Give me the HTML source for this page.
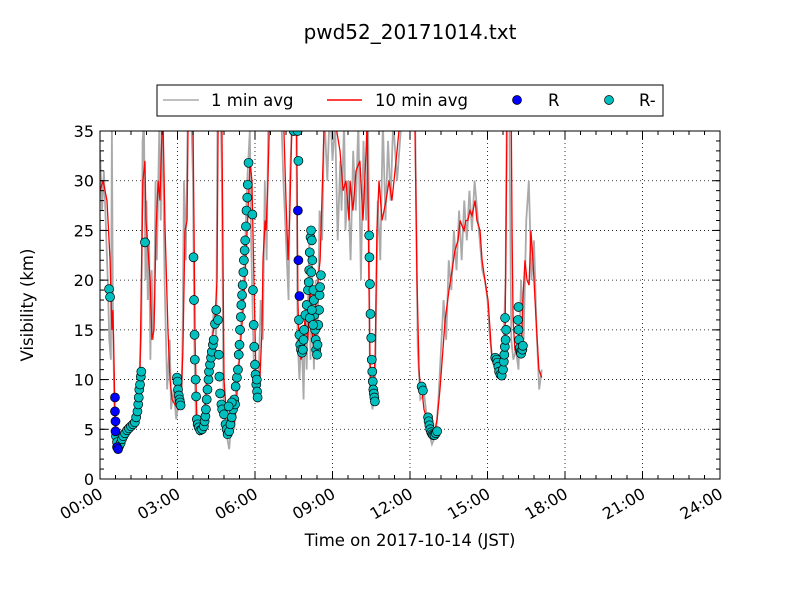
<!DOCTYPE html>
<html><head><meta charset="utf-8"><style>
body{margin:0;background:#fff;}
svg{display:block;font-family:"DejaVu Sans","Liberation Sans",sans-serif;}
</style></head><body>
<svg id="chart" width="800" height="600">
<defs><clipPath id="clip"><rect x="100" y="131" width="620" height="348"/></clipPath></defs>
<rect x="0" y="0" width="800" height="600" fill="#fff"/>
<text x="410" y="39" font-size="20" text-anchor="middle">pwd52_20171014.txt</text>
<g id="grid"></g>
<g id="plot" clip-path="url(#clip)"></g>
<rect x="100" y="131" width="620" height="348" fill="none" stroke="#000" stroke-width="1"/>
<g id="ticks"></g>
<text x="410" y="546" font-size="16.5" text-anchor="middle">Time on 2017-10-14 (JST)</text>
<text x="0" y="0" font-size="16.5" text-anchor="middle" transform="translate(33,305) rotate(-90)">Visibility (km)</text>
<g>
<rect x="157" y="85" width="506" height="31" fill="#fff" stroke="#000"/>
<g><line x1="163" y1="100" x2="199" y2="100" stroke="#aaa" stroke-width="1.5"/><text x="211" y="106" font-size="16.5">1 min avg</text></g>
<g><line x1="327" y1="100" x2="362" y2="100" stroke="red" stroke-width="1.5"/><text x="375" y="106" font-size="16.5">10 min avg</text></g>
<g><circle cx="517" cy="100" r="4.5" fill="#0000ff" stroke="#000" stroke-width="0.7"/><text x="548" y="106" font-size="16.5">R</text></g>
<g><circle cx="609" cy="100" r="4.5" fill="#00bfbf" stroke="#000" stroke-width="0.7"/><text x="639" y="106" font-size="16.5">R-</text></g>
</g>
</svg>
<script>
const xTicks=[0,3,6,9,12,15,18,21,24];
const xTickLabels=["00:00","03:00","06:00","09:00","12:00","15:00","18:00","21:00","24:00"];
const yTicks=[0,5,10,15,20,25,30,35];
const avg1Times=[0,0.08,0.15,0.22,0.3,0.36,0.42,0.46,0.5,0.55,0.6,0.7,0.8,1.0,1.2,1.4,1.5,1.6,1.65,1.7,1.76,1.8,1.85,1.9,1.95,2.0,2.05,2.1,2.15,2.2,2.3,2.35,2.42,2.5,2.6,2.7,2.75,2.85,2.95,3.05,3.15,3.2,3.25,3.32,3.4,3.5,3.6,3.66,3.72,3.85,4.0,4.1,4.2,4.3,4.4,4.5,4.55,4.65,4.72,4.78,4.9,5.0,5.1,5.2,5.3,5.4,5.5,5.6,5.7,5.8,5.85,5.95,6.05,6.15,6.22,6.3,6.38,6.45,6.52,7.0,7.1,7.2,7.3,7.35,7.45,7.6,7.65,7.72,7.8,7.88,7.95,8.0,8.1,8.15,8.2,8.28,8.35,8.42,8.5,8.6,8.68,8.8,8.9,9.0,9.1,9.2,9.3,9.35,9.45,9.5,9.6,9.7,9.8,9.9,10.0,10.1,10.2,10.3,10.38,10.45,10.55,10.65,10.75,10.85,10.95,11.05,11.15,11.25,11.35,11.5,11.7,12.0,12.2,12.3,12.4,12.55,12.7,12.85,13.0,13.1,13.2,13.3,13.4,13.5,13.6,13.7,13.8,13.9,14.0,14.1,14.2,14.3,14.4,14.5,14.6,14.7,14.8,14.9,15.0,15.1,15.2,15.35,15.5,15.6,15.7,15.75,15.85,15.92,16.0,16.1,16.2,16.3,16.4,16.5,16.6,16.7,16.8,16.9,17.0,17.1];
const avg1Values=[33,27,31,26,20,14,12,35,17,8,4,3,3.5,4.2,5,6,9,15,34,36,20,28,18,24,12,21,14,17,30,22,36,26,37,20,9,14,7,9,6,8,7,15,30,22,37,40,30,12,5,4.5,6,9,13,12,17,14,37,40,30,8,4.5,3,6,5,11,12,18,22,30,35,24,12,8,11,18,14,30,22,37,38,30,24,18,30,37,36,14,10,15,8,18,11,24,12,22,11,20,14,27,24,37,30,38,32,36,24,32,27,36,25,30,22,33,27,36,20,34,26,36,9,7,10,28,22,36,26,34,28,36,30,37,38,36,13,8,8.5,5,3.5,4.5,8,13,18,14,22,19,25,21,27,22,28,24,29,25,30,27,24,21,20,18,14,12,11,10,12,20,38,36,14,12,13,11,20,14,26,30,20,24,15,9,11];
const avg10Times=[0,0.12,0.27,0.39,0.46,0.5,0.54,0.58,0.66,0.74,0.85,1.08,1.35,1.47,1.55,1.66,1.74,1.78,1.86,1.94,2.01,2.09,2.17,2.25,2.32,2.4,2.44,2.52,2.63,2.71,2.79,2.9,3.02,3.14,3.21,3.29,3.37,3.41,3.48,3.6,3.68,3.75,3.83,3.95,4.06,4.18,4.34,4.45,4.53,4.57,4.65,4.72,4.8,4.88,4.99,5.11,5.23,5.34,5.42,5.54,5.61,5.73,5.81,5.88,5.96,6.04,6.12,6.19,6.27,6.31,6.39,6.43,6.5,6.58,7.08,7.12,7.2,7.28,7.35,7.43,7.59,7.63,7.66,7.7,7.78,7.86,7.93,8.05,8.13,8.2,8.28,8.36,8.44,8.52,8.59,8.67,8.75,9.1,9.29,9.41,9.52,9.64,9.68,9.79,9.91,10.06,10.18,10.3,10.34,10.41,10.45,10.53,10.65,10.72,10.8,10.92,11.07,11.19,11.3,11.46,11.61,11.8,12.0,12.19,12.27,12.35,12.39,12.46,12.54,12.66,12.77,12.85,12.93,13.05,13.16,13.36,13.51,13.63,13.74,13.86,13.94,14.01,14.09,14.16,14.24,14.32,14.4,14.52,14.59,14.71,14.79,14.9,15.02,15.1,15.17,15.25,15.37,15.48,15.6,15.68,15.75,15.83,15.91,15.95,15.99,16.06,16.14,16.22,16.3,16.37,16.45,16.53,16.61,16.68,16.76,16.88,16.99,17.1];
const avg10Values=[29,30,28,22,15,17,12,6,4,3,3.5,4.5,5.5,8,11,30,32,26,23,20,14,15,25,30,28,35,36,25,15,10,8,7.5,7,8,13,25,26,36,40,36,14,6,5,5.5,7,11,14,16,20,35,38,35,10,7,5,5,6,10,13,17,20,27,32,30,20,10,9,10,15,22,26,25,30,38,38,35,28,22,27,36,40,30,18,14,12,13,16,14,20,15,13,18,20,22,28,35,38,36,33,29,30,26,30,27,31,32,26,33,36,20,12,8,12,25,30,26,28,30,28,32,36,38,40,36,20,11,9.5,9,7,6,5,4.5,4.5,6,9,16,19,21,23,24,26,25.5,25,26,26,27,26.5,28,26,25,22,20,18,15,12,11.5,11.5,11.5,11,14,35,40,40,25,16,13,12.5,14,12.5,18,22,20,19.5,25,22,16,11,10.2];
const rTimes=[0.58,0.58,0.6,0.6,0.66,0.7,7.66,7.68,7.72];
const rValues=[8.2,6.8,5.8,4.8,3.2,3.0,27,22,18.4];
const rmTimes=[0.35,0.39,0.62,0.66,0.74,0.8,0.85,0.9,0.97,1.05,1.12,1.2,1.28,1.35,1.4,1.45,1.48,1.5,1.52,1.55,1.58,1.6,1.74,2.98,3.0,3.02,3.05,3.08,3.1,3.12,3.62,3.64,3.66,3.67,3.7,3.72,3.75,3.78,3.82,3.88,3.95,4.02,4.05,4.08,4.1,4.13,4.16,4.2,4.22,4.26,4.3,4.33,4.37,4.4,4.45,4.5,4.57,4.6,4.62,4.65,4.7,4.73,4.8,4.86,4.9,4.94,5.0,5.05,5.1,5.15,5.2,5.25,5.3,5.34,5.37,5.4,5.42,5.45,5.47,5.5,5.52,5.55,5.57,5.6,5.62,5.65,5.67,5.7,5.72,5.75,5.9,5.92,5.95,5.97,6.0,6.02,6.05,6.08,6.1,6.07,5.23,5.1,4.98,7.5,7.65,7.68,7.7,7.72,7.75,7.78,7.82,7.85,7.88,7.9,7.95,8.0,8.05,8.08,8.1,8.12,8.15,8.17,8.2,8.22,8.18,8.26,8.28,8.3,8.33,8.35,8.37,8.4,8.42,8.45,8.48,8.5,8.52,8.55,8.12,8.2,8.25,10.42,10.43,10.45,10.47,10.5,10.52,10.54,10.56,10.58,10.6,10.62,10.64,12.45,12.5,12.7,12.72,12.75,12.78,12.82,12.86,12.9,12.95,13.0,13.05,15.3,15.35,15.38,15.42,15.45,15.5,15.55,15.6,15.63,15.65,15.67,15.7,15.72,15.68,16.2,16.18,16.2,16.22,16.25,16.28,16.3,16.35,16.37];
const rmValues=[19.1,18.3,4.3,3.7,3.3,3.6,4,4.3,4.6,4.9,5.1,5.3,5.5,5.7,6.2,6.8,7.5,8.2,9,9.5,10.3,10.8,23.8,10.2,9.8,9,8.4,8,7.7,7.4,22.3,18,14.5,12,10,8.3,6,5.5,5.2,4.9,5,5.3,5.8,6.3,7,8,9,10,10.8,11.5,12.2,12.8,13.5,14,15.6,17,16,12.5,10.3,8.6,7.5,7,6.5,5.5,5,4.5,4.8,5.5,6.2,7,8,9.3,10.2,11,12.5,13.5,15,16.3,17.5,18.5,19.5,20.8,22,23,24,25.4,27,28.3,29.6,31.8,26.6,19,15.5,13.3,11.5,10.5,9.5,8.8,8.2,10,7.5,7.7,7.3,35,35,32,16,14.5,13.5,13,12.7,13,14,15,16.5,17.5,19,19.8,21,22.8,24.3,25,24,22,20.8,19,18,16.5,15,14,13,12.5,13.5,15.5,17,18.5,19.3,20.5,16.2,17,15.5,24.5,22.3,19.6,16.6,14.2,12,10.8,9.8,9,8.6,8.2,7.8,9.3,8.9,6.2,5.8,5.4,5,4.7,4.5,4.4,4.4,4.6,4.8,12.2,12,11.7,11.3,10.8,10.5,10.4,11,11.8,12.5,13.3,14,15,16.2,17.3,16,15,14,13.2,12.8,12.6,13,13.4];

const NS="http://www.w3.org/2000/svg";
const X=h=>100+h*620/24;
const Y=v=>479-v*348/35;
function mk(tag,attrs,parent){const e=document.createElementNS(NS,tag);for(const k in attrs)e.setAttribute(k,attrs[k]);parent.appendChild(e);return e;}
const grid=document.getElementById('grid'),plot=document.getElementById('plot'),ticks=document.getElementById('ticks');
xTicks.forEach((t,i)=>{
  if(i>0&&i<xTicks.length-1){const g=mk('line',{x1:X(t),x2:X(t),y1:131,y2:479,stroke:'#000','stroke-dasharray':'1,3','stroke-width':0.8},grid);
  
  }
  mk('line',{x1:X(t),x2:X(t),y1:479,y2:471,stroke:'#000'},ticks);
  mk('line',{x1:X(t),x2:X(t),y1:131,y2:139,stroke:'#000'},ticks);
  const tx=mk('text',{x:0,y:0,'font-size':16,'text-anchor':'end',transform:`translate(${X(t)+4},${497}) rotate(-30)`},ticks);
  tx.textContent=xTickLabels[i];
  
  
});
for(let m=0;m<=24;m+=0.6){mk('line',{x1:X(m),x2:X(m),y1:479,y2:475,stroke:'#000'},ticks);mk('line',{x1:X(m),x2:X(m),y1:131,y2:135,stroke:'#000'},ticks);}
yTicks.forEach(v=>{
  if(v>0&&v<35){const g=mk('line',{x1:100,x2:720,y1:Y(v),y2:Y(v),stroke:'#000','stroke-dasharray':'1,3','stroke-width':0.8},grid);
  
  }
  mk('line',{x1:100,x2:108,y1:Y(v),y2:Y(v),stroke:'#000'},ticks);
  mk('line',{x1:712,x2:720,y1:Y(v),y2:Y(v),stroke:'#000'},ticks);
  const tx=mk('text',{x:94,y:Y(v)+6,'font-size':16,'text-anchor':'end'},ticks);
  tx.textContent=String(v);
  
  
});
for(let m=0;m<=35;m++){mk('line',{x1:100,x2:104,y1:Y(m),y2:Y(m),stroke:'#000'},ticks);mk('line',{x1:716,x2:720,y1:Y(m),y2:Y(m),stroke:'#000'},ticks);}
const l1=mk('polyline',{points:avg1Times.map((t,i)=>X(t)+','+Y(avg1Values[i])).join(' '),fill:'none',stroke:'#aaa','stroke-width':1.8},plot);


const l10=mk('polyline',{points:avg10Times.map((t,i)=>X(t)+','+Y(avg10Values[i])).join(' '),fill:'none',stroke:'red','stroke-width':1.3},plot);


rmTimes.forEach((t,i)=>{const c=mk('circle',{cx:X(t),cy:Y(rmValues[i]),r:4.5,fill:'#00bfbf',stroke:'#000','stroke-width':0.7},plot);

});
rTimes.forEach((t,i)=>{const c=mk('circle',{cx:X(t),cy:Y(rValues[i]),r:4.5,fill:'#0000ff',stroke:'#000','stroke-width':0.7},plot);

});
</script>
</body></html>
